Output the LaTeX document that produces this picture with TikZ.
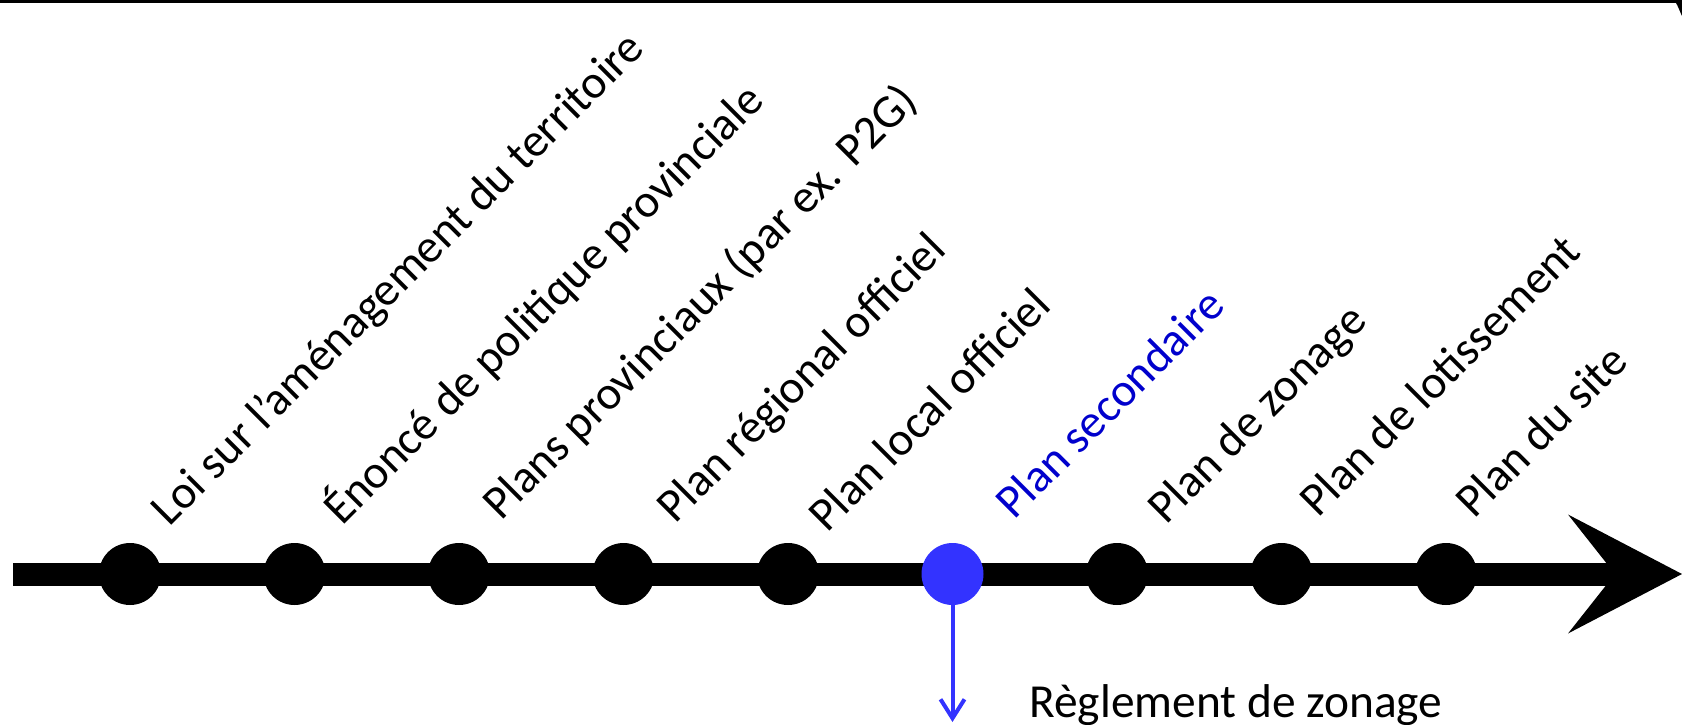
\documentclass[tikz,border=0pt]{standalone}
\usepackage{fontspec}
\setmainfont{Carlito}
\usetikzlibrary{arrows.meta}
\definecolor{dotblue}{HTML}{3333FF}
\definecolor{txtblue}{HTML}{0000CC}
\tikzset{
  axisline/.style={line width=11.5pt, -{Stealth[length=57pt,width=59.5pt,inset=23.5pt,line width=0pt]}},
  dotnode/.style={circle, fill=black, minimum size=31pt, inner sep=0pt},
  lbl/.style={anchor=base west, inner sep=0pt, rotate=45, font=\fontsize{23.5pt}{28pt}\selectfont},
  flat/.style={anchor=base west, inner sep=0pt, font=\fontsize{23.7pt}{28pt}\selectfont},
  bluearrow/.style={draw=dotblue, line width=2pt, -{Straight Barb[length=9.5pt,width=12pt]}}
}
\begin{document}
\begin{tikzpicture}[x=0.5pt,y=0.5pt]
\useasboundingbox (0,0) rectangle (1682,724);
% top frame edge
\fill (0,724) rectangle (1682,720.5);
\fill (1676,724) -- (1682,724) -- (1682,708) .. controls (1680,712) and (1678,718) .. (1676,721) -- cycle;
% axis
\coordinate (axs) at (13,150);
\coordinate (axe) at (1682,150);
\draw[axisline] (axs) -- (axe);
% dots
\node[dotnode] (d0) at (130,150) {};
\node[dotnode] (d1) at (294.5,150) {};
\node[dotnode] (d2) at (459,150) {};
\node[dotnode] (d3) at (623.5,150) {};
\node[dotnode] (d4) at (788,150) {};
\node[dotnode, fill=dotblue] (d5) at (952.5,150) {};
\node[dotnode] (d6) at (1117,150) {};
\node[dotnode] (d7) at (1281.5,150) {};
\node[dotnode] (d8) at (1446,150) {};
% labels
\node[lbl] (l0) at (169,196) {Loi sur l’aménagement du territoire};
\node[lbl] (l1) at (342,197) {Énoncé de politique provinciale};
\node[lbl] (l2) at (501,202) {Plans provinciaux (par ex. P2G)};
\node[lbl] (l3) at (675,199) {Plan régional officiel};
\node[lbl] (l4) at (827,190) {Plan local officiel};
\node[lbl, text=txtblue] (l5) at (1014,203) {Plan secondaire};
\node[lbl] (l6) at (1166,198) {Plan de zonage};
\node[lbl] (l7) at (1318,205) {Plan de lotissement};
\node[lbl] (l8) at (1474,204) {Plan du site};
% blue branch
\coordinate (bend) at (952.5,2);
\draw[bluearrow] (d5.south) -- (bend);
\node[flat] (reg) at (1029,7) {Règlement de zonage};
\end{tikzpicture}
\end{document}
